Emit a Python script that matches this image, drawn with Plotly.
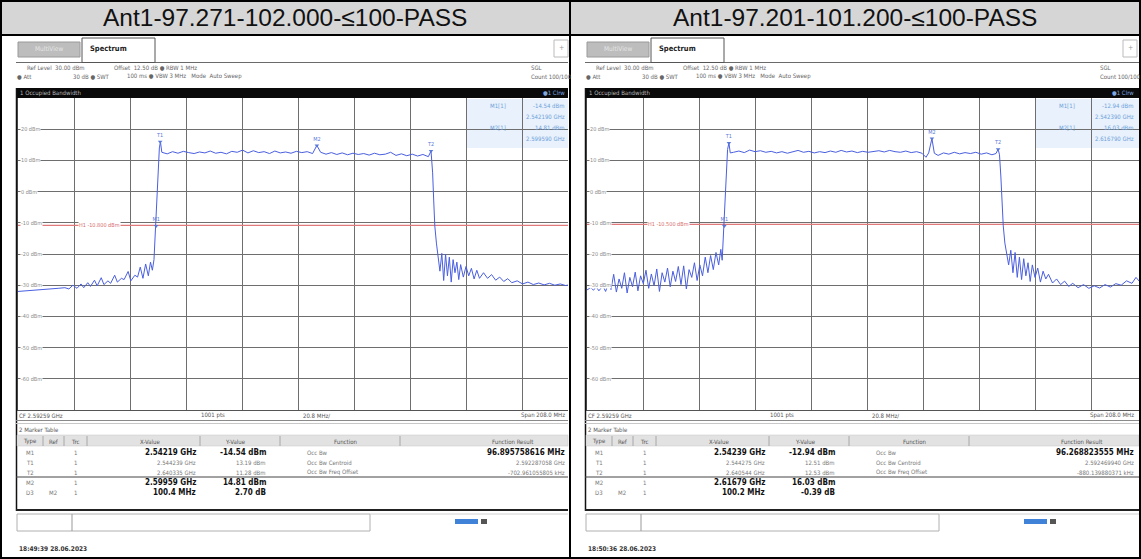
import plotly.graph_objects as go

W, H = 1141, 559

titles = ["Ant1-97.271-102.000-≤100-PASS", "Ant1-97.201-101.200-≤100-PASS"]

# ---------------- spectrum traces (MHz, dBm) ----------------
left_freq = [
    2488.6, 2491.0, 2493.5, 2496.0, 2498.5, 2501.0, 2503.5, 2506.0, 2507.5, 2509.0,
    2510.5, 2512.0, 2513.0, 2514.5, 2515.5, 2517.0, 2518.0, 2519.5, 2520.5, 2522.0,
    2523.0, 2524.5, 2525.5, 2527.0, 2528.0, 2529.5, 2530.5, 2532.0, 2533.0, 2534.0,
    2535.0, 2536.0, 2537.0, 2537.8, 2538.5, 2539.1, 2539.5, 2539.9, 2540.3, 2540.7,
    2541.1, 2541.5, 2542.0,
    2544, 2546, 2548, 2550, 2552, 2554, 2556, 2558, 2560, 2562, 2564, 2566, 2568,
    2570, 2572, 2574, 2576, 2578, 2580, 2582, 2584, 2586, 2588, 2590, 2592, 2594,
    2596, 2598, 2599.6, 2601, 2603, 2605, 2607, 2609, 2611, 2613, 2615, 2617, 2619,
    2621, 2623, 2625, 2627, 2629, 2631, 2633, 2635, 2637, 2639, 2641, 2642.0,
    2642.6, 2643.0, 2643.4, 2644.0, 2644.6, 2645.3, 2646.0, 2646.7, 2647.4, 2648.1,
    2648.8, 2649.5, 2650.2, 2650.9, 2651.6, 2652.3, 2653.0, 2654.0, 2655.0, 2656.0,
    2657.0, 2658.0, 2659.0, 2660.0, 2661.5, 2663.0, 2664.5, 2666.0, 2667.5, 2669.0,
    2670.5, 2672.0, 2674.0, 2676.0, 2678.0, 2680.0, 2682.0, 2684.0, 2686.0, 2688.0,
    2690.0, 2692.0, 2694.0, 2696.6,
]
left_level = [
    -32.0, -31.8, -31.6, -31.5, -31.3, -31.2, -31.0, -30.8, -31.2, -30.0,
    -31.0, -29.6, -30.8, -29.2, -30.4, -28.4, -30.2, -27.6, -29.8, -28.6,
    -29.4, -26.8, -29.0, -27.8, -28.2, -25.6, -28.6, -26.8, -27.4, -24.2,
    -27.8, -23.2, -27.0, -22.6, -25.2, -21.8, -14.5, -8.0, 0.5, 8.5,
    14.0, 16.0, 12.6,
    12.1, 12.8, 12.3, 12.9, 12.5, 12.2, 12.7, 12.4, 13.0, 12.3, 12.6, 12.1, 12.9,
    12.6, 13.3, 12.4, 13.1, 12.5, 12.8, 12.2, 13.0, 12.4, 12.7, 12.3, 12.9, 12.5,
    12.8, 12.2, 14.8, 12.6, 12.0, 12.5, 11.9, 12.4, 11.8, 12.3, 11.9, 12.2, 11.7,
    12.3, 11.8, 12.0, 12.6, 11.6, 12.1, 11.5, 12.0, 11.4, 11.9, 11.2, 13.0,
    6.0, -3.0, -11.0, -16.5, -20.0, -25.5, -19.8, -28.5, -20.0, -27.0,
    -21.0, -29.0, -21.8, -26.0, -22.6, -28.2, -23.4, -27.4, -24.0, -27.0,
    -24.6, -28.0, -25.2, -27.8, -26.0, -27.8, -26.6, -28.4, -27.4, -28.8,
    -27.9, -29.2, -28.6, -29.6, -29.0, -29.8, -29.3, -29.9, -29.4, -30.0,
    -29.6, -30.1, -29.8, -30.2,
]

right_freq = [
    2488.6, 2490.0, 2491.0, 2492.0, 2493.0, 2494.5, 2495.5, 2496.5, 2497.5, 2498.5,
    2499.5, 2500.5, 2501.5, 2502.5, 2503.5, 2504.5, 2505.5, 2506.5, 2507.5, 2508.5,
    2509.5, 2510.5, 2511.5, 2512.5, 2513.5, 2514.5, 2515.5, 2516.5, 2517.5, 2518.5,
    2519.5, 2520.5, 2521.5, 2522.5, 2523.5, 2524.5, 2525.5, 2526.5, 2527.5, 2528.5,
    2529.5, 2530.5, 2531.5, 2532.5, 2533.5, 2534.5, 2535.5, 2536.5, 2537.5, 2538.3,
    2538.8, 2539.2, 2539.6, 2540.0, 2540.4, 2540.8, 2541.3, 2541.8,
    2543, 2545, 2547, 2549, 2551, 2553, 2555, 2557, 2559, 2561, 2563, 2565, 2567,
    2569, 2571, 2573, 2575, 2577, 2579, 2581, 2583, 2585, 2587, 2589, 2591, 2593,
    2595, 2597, 2599, 2601, 2603, 2605, 2607, 2609, 2611, 2613, 2614.5, 2615.5,
    2616.7, 2617.6, 2619, 2621, 2623, 2625, 2627, 2629, 2631, 2633, 2635, 2637,
    2639, 2640.5, 2641.3,
    2641.8, 2642.3, 2642.8, 2643.2, 2643.8, 2644.5, 2645.2, 2646.0, 2646.8, 2647.6,
    2648.4, 2649.2, 2650.0, 2650.8, 2651.6, 2652.4, 2653.2, 2654.0, 2655.0, 2656.0,
    2657.0, 2658.0, 2659.0, 2660.0, 2661.5, 2663.0, 2664.5, 2666.0, 2667.5, 2669.0,
    2671.0, 2673.0, 2675.0, 2677.0, 2679.0, 2681.0, 2683.0, 2685.0, 2687.0, 2689.0,
    2691.0, 2692.5, 2694.0, 2696.6,
]
right_level = [
    -31.5, -30.8, -31.6, -30.5, -31.8, -30.2, -32.0, -29.5, -31.4, -26.5,
    -32.2, -28.0, -31.0, -26.0, -32.5, -27.5, -30.5, -25.8, -31.8, -27.0,
    -29.5, -25.2, -31.0, -26.4, -30.2, -24.8, -32.0, -26.0, -29.0, -24.5,
    -30.5, -25.5, -28.8, -24.0, -29.8, -23.8, -31.2, -25.0, -27.5, -22.8,
    -28.5, -23.5, -27.0, -21.0, -26.0, -20.5, -25.0, -19.5, -23.5, -18.5,
    -22.0, -14.0, -11.0, -2.0, 7.0, 13.5, 15.6, 12.4,
    12.6, 13.0, 12.5, 13.3, 12.8, 13.1, 12.6, 12.9, 12.4, 12.8, 12.3, 12.7, 13.2,
    12.6, 12.9, 12.4, 12.8, 12.5, 13.0, 12.6, 13.2, 12.7, 13.0, 12.5, 12.9, 12.6,
    12.8, 13.1, 12.7, 13.2, 12.8, 12.6, 13.0, 12.5, 12.8, 12.3, 11.0, 12.4,
    17.0, 12.3, 11.6, 12.4, 12.0, 12.6, 12.1, 12.5, 12.2, 12.6, 12.0, 12.4,
    11.8, 12.2, 13.6,
    11.8, 5.0, -4.0, -11.0, -16.5, -19.5, -23.5, -18.8, -26.0, -19.5,
    -27.5, -21.0, -28.2, -21.5, -27.0, -22.8, -28.8, -23.5, -27.5, -24.5,
    -29.0, -25.5, -28.0, -26.5, -29.3, -28.0, -29.8, -28.7, -30.4, -29.4,
    -30.8, -29.8, -31.0, -30.2, -30.9, -29.8, -30.6, -29.5, -30.0, -28.6,
    -29.4, -27.5, -29.0, -28.5,
]

# marker glyphs on the traces (MHz, dBm, label)
left_markers_f = [2539.9, 2541.4, 2599.6, 2642.0]
left_markers_l = [-11.0, 16.0, 14.8, 13.0]
right_markers_f = [2539.6, 2541.3, 2616.7, 2641.3]
right_markers_l = [-11.0, 15.6, 17.0, 13.6]
marker_names = ["M1", "T1", "M2", "T2"]

# display (red) lines, dBm
display_lines = [-10.8, -10.5]

# axis settings
ref_level = 30.0
bottom_level = -70.0
db_per_div = 10.0
cf_mhz = 2592.59
span_mhz = 208.0
n_div = 10
tick_levels = [20, 10, 0, -10, -20, -30, -40, -50, -60]

# marker info box (top right of each diagram)
info_boxes = [
    [("M1[1]", "-14.54 dBm", "2.542190 GHz"), ("M2[1]", "14.81 dBm", "2.599590 GHz")],
    [("M1[1]", "-12.94 dBm", "2.542390 GHz"), ("M2[1]", "16.03 dBm", "2.616790 GHz")],
]

table_header = ["Type", "Ref", "Trc", "X-Value", "Y-Value", "Function", "Function Result"]
left_rows = [
    ("M1", "", "1", "2.54219 GHz", "-14.54 dBm", "Occ Bw", "96.895758616 MHz", True),
    ("T1", "", "1", "2.544239 GHz", "13.19 dBm", "Occ Bw Centroid", "2.592287058 GHz", False),
    ("T2", "", "1", "2.640335 GHz", "11.28 dBm", "Occ Bw Freq Offset", "-702.961055805 kHz", False),
    ("M2", "", "1", "2.59959 GHz", "14.81 dBm", "", "", True),
    ("D3", "M2", "1", "100.4 MHz", "2.70 dB", "", "", True),
]
right_rows = [
    ("M1", "", "1", "2.54239 GHz", "-12.94 dBm", "Occ Bw", "96.268823555 MHz", True),
    ("T1", "", "1", "2.544275 GHz", "12.51 dBm", "Occ Bw Centroid", "2.592469940 GHz", False),
    ("T2", "", "1", "2.640544 GHz", "12.53 dBm", "Occ Bw Freq Offset", "-880.139880371 kHz", False),
    ("M2", "", "1", "2.61679 GHz", "16.03 dBm", "", "", True),
    ("D3", "M2", "1", "100.2 MHz", "-0.39 dB", "", "", True),
]
timestamps = ["18:49:39 28.06.2023", "18:50:36 28.06.2023"]

# ---------------- drawing helpers ----------------
SMALL = "DejaVu Sans Condensed, DejaVu Sans, sans-serif"
TITLE_FONT = "Liberation Sans, Arial, sans-serif"
fig = go.Figure()
shapes, annotations = [], []


def rect(x0, y0, x1, y1, fill="rgba(0,0,0,0)", line="rgba(0,0,0,0)", lw=0, layer="above"):
    shapes.append(dict(type="rect", xref="paper", yref="paper",
                       x0=x0 / W, x1=x1 / W, y0=1 - y1 / H, y1=1 - y0 / H,
                       fillcolor=fill, line=dict(color=line, width=lw), layer=layer))


def hline(x0, x1, y, color, lw=1, layer="above"):
    shapes.append(dict(type="line", xref="paper", yref="paper",
                       x0=x0 / W, x1=x1 / W, y0=1 - y / H, y1=1 - y / H,
                       line=dict(color=color, width=lw), layer=layer))


def vline(x, y0, y1, color, lw=1, layer="above"):
    shapes.append(dict(type="line", xref="paper", yref="paper",
                       x0=x / W, x1=x / W, y0=1 - y0 / H, y1=1 - y1 / H,
                       line=dict(color=color, width=lw), layer=layer))


def text(x, y, s, size=6.5, color="#666", anchor="left", bold=False, family=SMALL, bg="rgba(0,0,0,0)"):
    annotations.append(dict(xref="paper", yref="paper", x=x / W, y=1 - y / H,
                            text=f"<b>{s}</b>" if bold else s, showarrow=False,
                            xanchor=anchor, yanchor="middle", borderpad=0, bgcolor=bg,
                            font=dict(size=size, color=color, family=family)))


# ---------------- table frame & titles ----------------
rect(0, 0, 1141, 35, fill="#d6d6d6", layer="below")
for i, t in enumerate(titles):
    text(285 + i * 570, 18, t, size=24.5, color="#111", anchor="center", family=TITLE_FONT)

panels = [
    dict(ox=0, right=568, freq=left_freq, level=left_level, mf=left_markers_f, ml=left_markers_l,
         rows=left_rows, xa="x", ya="y"),
    dict(ox=569, right=570, freq=right_freq, level=right_level, mf=right_markers_f, ml=right_markers_l,
         rows=right_rows, xa="x2", ya="y2"),
]

x_start = cf_mhz - span_mhz / 2
div_px = 56.0
plot_top, plot_bot = 98, 410

for i, p in enumerate(panels):
    ox, r = p["ox"], p["right"]
    R = ox + r
    # tabs
    rect(ox + 18, 42, ox + 80, 57, fill="#bdbdbd", line="#9a9a9a", lw=1)
    text(ox + 49, 49.5, "MultiView", size=6.5, color="#e6e6e6", anchor="center")
    hline(ox + 16, R, 62.5, "#6a6a6a", 1)
    rect(ox + 82, 38, ox + 155, 62.5, fill="white", line="#555", lw=1)
    text(ox + 89, 48, "Spectrum", size=7.5, color="#222", bold=True)
    rect(ox + 554, 40, ox + 568, 57, fill="white", line="#bbb", lw=1)
    text(ox + 561, 48.5, "+", size=7, color="#999", anchor="center")
    # header settings
    text(ox + 26, 67, "Ref Level  30.00 dBm", size=6, color="#666")
    text(ox + 113, 67, "Offset  12.50 dB ● RBW 1 MHz", size=6, color="#666")
    text(ox + 16, 76, "● Att", size=6, color="#666")
    text(ox + 72, 76, "30 dB ● SWT", size=6, color="#666")
    text(ox + 126, 76, "100 ms ● VBW 3 MHz   Mode  Auto Sweep", size=6, color="#666")
    text(ox + 530, 67, "SGL", size=6, color="#666")
    text(ox + 530, 76, "Count 100/100", size=6, color="#666")
    # black bar
    rect(ox + 16, 88, R, plot_top, fill="#0a0a0a")
    text(ox + 19, 93, "1 Occupied Bandwidth", size=6, color="#bbbbbb")
    text(ox + 566, 93, "●1 Clrw", size=6, color="#7fa8e0", anchor="right")
    # left border of screenshot
    vline(ox + 16.5, 88, 511, "#111", 1.5)
    # marker info box
    rect(ox + 466, 99, R, 148, fill="rgba(205,225,248,0.45)", layer="below")
    for k, (nm, lv, fq) in enumerate(info_boxes[i]):
        yy = 105 + k * 23
        text(ox + 507, yy, nm, size=6, color="#6d9fd9", anchor="right")
        text(ox + 566, yy, lv, size=6, color="#6d9fd9", anchor="right")
        text(ox + 566, yy + 11, fq, size=6, color="#6d9fd9", anchor="right")
    # y level labels
    for lv in tick_levels:
        yy = plot_top + (ref_level - lv) / db_per_div * (plot_bot - plot_top) / n_div
        text(ox + 20, yy, f"{lv} dBm", size=5.5, color="#8a8a8a", bg="white")
    # display line label
    dl = display_lines[i]
    yy = plot_top + (ref_level - dl) / db_per_div * (plot_bot - plot_top) / n_div
    text(ox + 78, yy, f"H1 {dl:.3f} dBm", size=5.5, color="#d66a6a", bg="white")
    # bottom of diagram
    text(ox + 18, 415, "CF 2.59259 GHz", size=6, color="#555")
    text(ox + 213, 415, "1001 pts", size=6, color="#555", anchor="center")
    text(ox + 316, 415, "20.8 MHz/", size=6, color="#555", anchor="center")
    text(ox + 566, 415, "Span 208.0 MHz", size=6, color="#555", anchor="right")
    hline(ox + 16, R, 420.5, "#8a8a8a", 1)
    hline(ox + 16, R, 423.5, "#c8c8c8", 1)
    text(ox + 18, 429, "2 Marker Table", size=6, color="#555")
    # table header
    rect(ox + 17, 435, R, 446, fill="#e2e2e2", line="#c4c4c4", lw=0.5)
    hx = [30, 53, 75, 150, 236, 345, 512]
    for h, x in zip(table_header, hx):
        text(ox + x, 441, h, size=6, color="#555", anchor="center")
    for sx in [43, 64, 87, 200, 280, 400]:
        vline(ox + sx, 436, 446, "#9a9a9a", 0.8)
    # rows
    row_y = [452, 462, 472, 482, 492]
    for (ty, rf, tr, xv, yv, fn, res, bold), yy in zip(p["rows"], row_y):
        text(ox + 30, yy, ty, size=6, color="#777", anchor="center")
        text(ox + 53, yy, rf, size=6, color="#777", anchor="center")
        text(ox + 75, yy, tr, size=6, color="#777", anchor="center")
        if bold:
            text(ox + 197, yy, xv, size=8, color="#111", anchor="right", bold=True)
            text(ox + 267, yy, yv, size=8, color="#111", anchor="right", bold=True)
            text(ox + 566, yy, res, size=8, color="#111", anchor="right", bold=True)
        else:
            text(ox + 197, yy, xv, size=6, color="#777", anchor="right")
            text(ox + 267, yy, yv, size=6, color="#777", anchor="right")
            text(ox + 566, yy, res, size=6, color="#777", anchor="right")
        text(ox + 306, yy, fn, size=6, color="#777")
    hline(ox + 16, R, 477, "#444", 1)
    hline(ox + 16, R, 510, "#222", 2)
    # status strip
    rect(ox + 17, 514, ox + 370, 531, fill="white", line="#b0b0b0", lw=1)
    vline(ox + 72, 514, 531, "#999", 1)
    hline(ox + 370, R, 514, "#d0d0d0", 1)
    rect(ox + 455, 519, ox + 478, 524, fill="#3f82d8")
    rect(ox + 481, 519, ox + 487, 524, fill="#555")
    text(ox + 18, 549, timestamps[i], size=6.5, color="#333", bold=True)

# outer table borders
rect(1, 1, 1140, 558, line="#000", lw=2)
hline(0, 1141, 35, "#000", 2)
vline(570, 0, 559, "#000", 2)

# ---------------- traces ----------------
layout_axes = {}
for i, p in enumerate(panels):
    x_end = x_start + span_mhz * ((p["right"] - 18) / div_px) / n_div
    fig.add_trace(go.Scatter(x=[x_start, x_start + span_mhz], y=[display_lines[i]] * 2, mode="lines",
                             line=dict(color="#e07a7a", width=1.2), xaxis=p["xa"], yaxis=p["ya"],
                             hoverinfo="skip", showlegend=False))
    fig.add_trace(go.Scatter(x=p["freq"], y=p["level"], mode="lines",
                             line=dict(color="#4a5fe0", width=1), xaxis=p["xa"], yaxis=p["ya"],
                             showlegend=False))
    fig.add_trace(go.Scatter(x=p["mf"], y=p["ml"], mode="markers+text", text=marker_names,
                             textposition="top center", textfont=dict(size=5.5, color="#5a78d8", family=SMALL),
                             marker=dict(symbol="triangle-down", size=4, color="#5a78d8"),
                             xaxis=p["xa"], yaxis=p["ya"], showlegend=False, cliponaxis=False))
    dom_x = [18 / W, 568 / W] if i == 0 else [587 / W, 1139 / W]
    axis_x = dict(range=[x_start, x_end], domain=dom_x,
                  tick0=x_start, dtick=span_mhz / n_div, showgrid=True, gridcolor="#6e6e6e", gridwidth=1,
                  showticklabels=False, ticks="", zeroline=False, showline=True, linecolor="#555",
                  linewidth=1, anchor=p["ya"])
    axis_y = dict(range=[bottom_level, ref_level], domain=[1 - plot_bot / H, 1 - plot_top / H],
                  tick0=bottom_level, dtick=db_per_div, showgrid=True, gridcolor="#6e6e6e", gridwidth=1,
                  showticklabels=False, ticks="", zeroline=False, showline=True, linecolor="#555",
                  linewidth=1, anchor=p["xa"])
    sfx = "" if i == 0 else "2"
    layout_axes["xaxis" + sfx] = axis_x
    layout_axes["yaxis" + sfx] = axis_y

fig.update_layout(**layout_axes)
fig.update_layout(width=W, height=H, margin=dict(l=0, r=0, t=0, b=0),
                  paper_bgcolor="white", plot_bgcolor="rgba(0,0,0,0)",
                  shapes=shapes, annotations=annotations, showlegend=False)
fig.write_html("out.html", config={"displayModeBar": False},
               post_script="document.body.style.margin='0';document.body.style.overflow='hidden';")
